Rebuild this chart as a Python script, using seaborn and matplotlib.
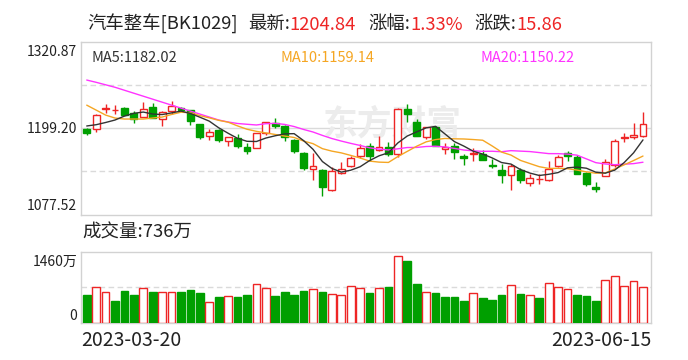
import numpy as np
import pandas as pd
import matplotlib
matplotlib.use('Agg')
import matplotlib.pyplot as plt
import seaborn as sns

# ---------------- data ----------------
start_date = '2023-03-20'
end_date = '2023-06-15'
title_name = '汽车整车[BK1029]'
latest = '1204.84'
pct_change = '1.33%'
abs_change = '15.86'
ma_labels = ['MA5:1182.02', 'MA10:1159.14', 'MA20:1150.22']
volume_label = '成交量:736万'

opens = [1197.8, 1197.8, 1225.8, 1224.5, 1227.6, 1220.2, 1215.3, 1229.4, 1211.8, 1223.0,
         1227.6, 1224.8, 1205.2, 1188.0, 1196.8, 1180.9, 1185.6, 1173.0, 1171.2, 1192.2,
         1206.2, 1202.8, 1182.8, 1164.6, 1141.8, 1140.9, 1112.0, 1136.3, 1145.5, 1159.5,
         1174.4, 1168.8, 1173.0, 1163.3, 1226.2, 1208.5, 1186.6, 1201.4, 1169.3, 1173.5,
         1159.5, 1162.3, 1163.3, 1147.9, 1140.9, 1133.5, 1140.9, 1122.3, 1126.9, 1125.9,
         1146.4, 1164.6, 1158.6, 1136.7, 1116.7, 1131.5, 1147.9, 1185.2, 1187.4, 1188.0]
highs = [1200.0, 1219.2, 1234.0, 1231.8, 1228.5, 1223.4, 1235.6, 1234.6, 1223.0, 1237.4,
         1228.5, 1225.5, 1205.6, 1198.7, 1197.5, 1186.8, 1191.2, 1178.2, 1192.6, 1208.5,
         1213.6, 1203.5, 1183.5, 1165.0, 1164.2, 1141.5, 1144.7, 1152.1, 1160.5, 1177.2,
         1178.2, 1188.8, 1180.0, 1227.6, 1233.2, 1212.2, 1200.6, 1202.0, 1178.2, 1178.2,
         1163.3, 1171.2, 1169.0, 1156.3, 1149.2, 1149.2, 1143.7, 1135.3, 1135.3, 1153.0,
         1162.0, 1167.8, 1162.0, 1137.0, 1122.7, 1156.3, 1184.2, 1193.0, 1206.2, 1221.6]
lows = [1190.2, 1194.4, 1221.0, 1219.6, 1218.0, 1207.0, 1215.3, 1213.6, 1202.8, 1219.2,
        1223.0, 1204.2, 1184.6, 1183.2, 1180.5, 1173.5, 1171.2, 1162.3, 1170.8, 1190.0,
        1200.0, 1180.9, 1164.6, 1141.0, 1126.0, 1103.5, 1110.5, 1134.3, 1145.0, 1157.6,
        1153.0, 1167.0, 1160.0, 1158.6, 1207.6, 1188.8, 1184.0, 1174.0, 1162.3, 1156.3,
        1146.9, 1152.5, 1153.9, 1143.7, 1122.3, 1111.9, 1121.3, 1117.5, 1120.0, 1124.5,
        1145.0, 1152.5, 1134.3, 1117.5, 1108.7, 1131.5, 1144.7, 1179.6, 1184.2, 1186.6]
closes = [1193.0, 1217.8, 1227.6, 1225.2, 1218.2, 1212.6, 1226.6, 1213.6, 1221.6, 1230.0,
          1225.2, 1209.8, 1187.4, 1193.6, 1183.2, 1186.6, 1174.0, 1166.5, 1192.2, 1207.6,
          1202.8, 1187.4, 1167.8, 1143.3, 1146.4, 1116.1, 1139.0, 1141.8, 1156.7, 1170.9,
          1159.5, 1172.6, 1163.3, 1226.2, 1219.6, 1188.8, 1200.6, 1174.0, 1172.6, 1165.6,
          1157.2, 1164.6, 1153.9, 1145.5, 1132.9, 1146.4, 1125.9, 1129.3, 1128.3, 1141.3,
          1158.6, 1159.5, 1134.3, 1120.3, 1113.3, 1151.6, 1181.0, 1187.4, 1189.0, 1204.84]
volumes = [569, 733, 631, 452, 651, 569, 706, 631, 631, 631,
           631, 672, 610, 425, 528, 548, 528, 569, 795, 713,
           548, 631, 569, 651, 692, 631, 590, 562, 754, 713,
           617, 713, 733, 1371, 1268, 795, 631, 617, 528, 528,
           446, 610, 507, 466, 569, 775, 590, 562, 507, 816,
           733, 692, 569, 548, 446, 877, 960, 754, 857, 736]  # 万

# moving-average values at the start of the window (earlier data not shown)
ma5_head = [1202.4, 1204.2, 1207.3, 1210.8]
ma10_head = [1231.8, 1224.8, 1217.8, 1213.6, 1212.2, 1212.2, 1212.2, 1213.6, 1215.0]
ma20_head = [1267.2, 1264.0, 1260.5, 1257.0, 1252.8, 1248.6, 1244.4, 1240.2, 1236.0, 1231.8,
             1227.6, 1223.4, 1219.2, 1215.0, 1210.8, 1208.0, 1205.9, 1204.8, 1203.8]

price_ticks = [1077.52, 1199.20, 1320.87]
vol_ticks = [0, 1460]
vol_tick_labels = ['0', '1460万']

# ---------------- styling ----------------
sns.set_theme(style='white')
plt.rcParams['font.family'] = ['Noto Sans CJK SC', 'DejaVu Sans']

RED = '#ee2525'
GREEN = '#009f00'
GRID = '#dadada'
SPINE = '#d2d2d2'
C_MA5 = '#333333'
C_MA10 = '#f5a623'
C_MA20 = '#ff33ff'

W, H = 688, 360
fig = plt.figure(figsize=(W / 100, H / 100), dpi=100)
fig.patch.set_facecolor('white')


def fx(px):
    return px / W


def fy(py):
    return 1 - py / H


L, R = 80.5, 651.0
P_TOP, P_BOT = 42.0, 214.5
V_TOP, V_BOT = 251.7, 322.7
ax = fig.add_axes([fx(L), fy(P_BOT), (R - L) / W, (P_BOT - P_TOP) / H])
axv = fig.add_axes([fx(L), fy(V_BOT), (R - L) / W, (V_BOT - V_TOP) / H])

n = len(closes)
x = np.arange(n)
o = np.array(opens)
h = np.array(highs)
l = np.array(lows)
c = np.array(closes)
v = np.array(volumes)

for a in (ax, axv):
    a.set_facecolor('white')
    for s in a.spines.values():
        s.set_color(SPINE)
        s.set_linewidth(1.0)
    a.set_xticks([])
    a.set_yticks([])
    a.set_xlim(-0.66, n - 1 + 0.85)

pmin, pmax = price_ticks[0], price_ticks[-1]
ax.set_ylim(pmin, pmax)
axv.set_ylim(vol_ticks[0], vol_ticks[-1])

# grid lines
q = (pmax - pmin) / 4
ax.axhline(pmin + 2 * q, color=GRID, lw=1.0, zorder=0.5)
for yv in (pmin + q, pmin + 3 * q):
    ax.axhline(yv, color=GRID, lw=1.0, ls=(0, (4, 2.5)), zorder=0.5)
axv.axhline(vol_ticks[-1] / 2, color=GRID, lw=1.0, ls=(0, (4, 2.5)), zorder=0.5)

# watermark (behind the candles)
ax.text(fx(392), fy(124), '东方财富', fontsize=25, color='#ececec', ha='center',
        va='center', fontweight='bold', zorder=0.6, transform=fig.transFigure)

# candles
up = c >= o
ax.vlines(x, l, h, colors=[RED if u else GREEN for u in up], lw=1.0, zorder=2)
body_h = np.maximum(np.abs(c - o), 0.6)
body_b = np.minimum(o, c)
ax.bar(x, body_h, bottom=body_b, width=0.72,
       color=['white' if u else GREEN for u in up],
       edgecolor=[RED if u else GREEN for u in up], linewidth=1.0, zorder=3)

# moving averages
s = pd.Series(c)
ma5 = s.rolling(5).mean().to_numpy()
ma10 = s.rolling(10).mean().to_numpy()
ma20 = s.rolling(20).mean().to_numpy()
ma5[:len(ma5_head)] = ma5_head
ma10[:len(ma10_head)] = ma10_head
ma20[:len(ma20_head)] = ma20_head
ma_df = pd.DataFrame({'x': x, 'MA5': ma5, 'MA10': ma10, 'MA20': ma20})
sns.lineplot(data=ma_df, x='x', y='MA20', ax=ax, color=C_MA20, lw=1.0, zorder=4)
sns.lineplot(data=ma_df, x='x', y='MA10', ax=ax, color=C_MA10, lw=1.0, zorder=4)
sns.lineplot(data=ma_df, x='x', y='MA5', ax=ax, color=C_MA5, lw=1.0, zorder=5)
ax.set_xlabel('')
ax.set_ylabel('')
ax.set_xlim(-0.66, n - 1 + 0.85)
ax.set_ylim(pmin, pmax)

# volume bars (colour by close vs previous close)
prev = np.concatenate([[o[0]], c[:-1]])
vup = c >= prev
axv.bar(x, v, width=0.82, color=['white' if u else GREEN for u in vup],
        edgecolor=[RED if u else GREEN for u in vup], linewidth=1.0, zorder=3)

# ---------------- texts ----------------
fig.canvas.draw()
renderer = fig.canvas.get_renderer()
pieces = [(title_name, '#222222', 0), ('最新:', '#222222', 10), (latest, RED, 0),
          ('涨幅:', '#222222', 12), (pct_change, RED, 0),
          ('涨跌:', '#222222', 12), (abs_change, RED, 0)]
cx = 87.3
for txt, col, gap in pieces:
    cx += gap
    t = fig.text(fx(cx), fy(29.5), txt, fontsize=13.2, color=col, ha='left', va='baseline')
    bb = t.get_window_extent(renderer)
    cx += bb.width

for txt, col, xp in zip(ma_labels, [C_MA5, C_MA10, C_MA20], [91, 280, 480]):
    fig.text(fx(xp), fy(62), txt, fontsize=10.5, color=col, ha='left', va='baseline')

for val, yc in zip(price_ticks, [205.7, 129.0, 52.0]):
    fig.text(fx(77), fy(yc), f'{val:.2f}', fontsize=10, color='#222222', ha='right', va='center')

for lab, yc in zip(vol_tick_labels, [316.0, 261.7]):
    fig.text(fx(77), fy(yc), lab, fontsize=10, color='#222222', ha='right', va='center')

fig.text(fx(82.7), fy(232.5), volume_label, fontsize=13.3, color='#222222', ha='left', va='center')

fig.text(fx(81), fy(341), start_date, fontsize=14, color='#222222', ha='left', va='center')
fig.text(fx(651), fy(341), end_date, fontsize=14, color='#222222', ha='right', va='center')

fig.savefig('out.png', dpi=100, facecolor='white')
